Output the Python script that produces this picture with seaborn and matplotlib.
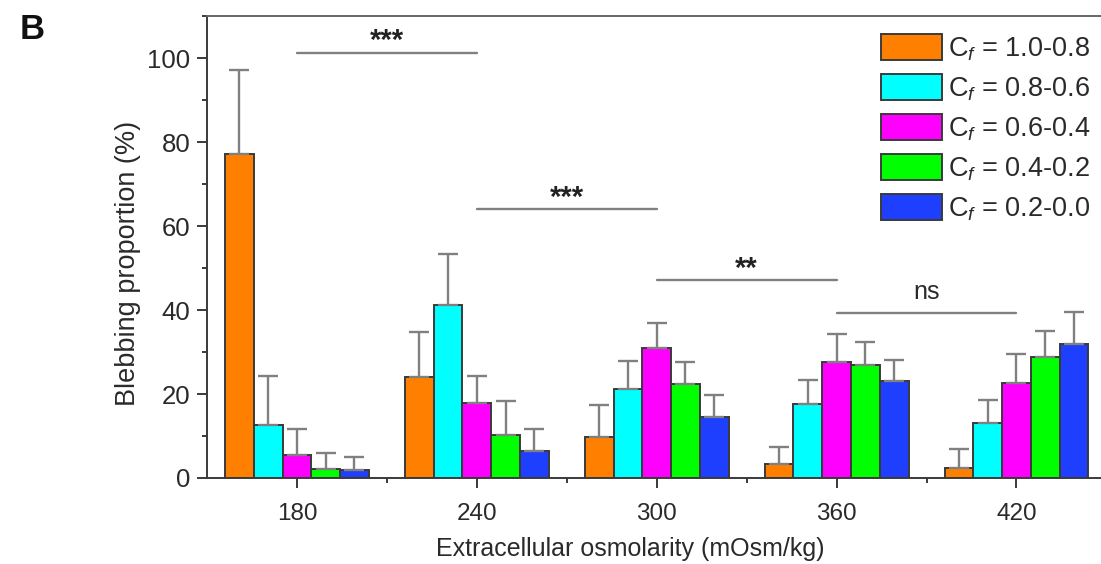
import numpy as np
import pandas as pd
import matplotlib
matplotlib.use('Agg')
import matplotlib.pyplot as plt
from matplotlib.ticker import MultipleLocator, FixedLocator
import seaborn as sns

# Data
osmolarity = ['180', '240', '300', '360', '420']
groups = [r'C$_f$ = 1.0-0.8', r'C$_f$ = 0.8-0.6', r'C$_f$ = 0.6-0.4',
          r'C$_f$ = 0.4-0.2', r'C$_f$ = 0.2-0.0']
colors = ['#FF8000', '#00FFFF', '#FF00FF', '#00FF00', '#1F3FFF']

means_c10 = [77.1, 24.0, 9.7, 3.4, 2.4]
means_c08 = [12.6, 41.3, 21.2, 17.7, 13.1]
means_c06 = [5.5, 17.9, 31.0, 27.7, 22.7]
means_c04 = [2.1, 10.2, 22.3, 26.8, 28.7]
means_c02 = [1.9, 6.4, 14.6, 23.2, 31.8]

err_c10 = [20.0, 10.8, 7.7, 3.9, 4.6]
err_c08 = [11.7, 12.0, 6.6, 5.7, 5.5]
err_c06 = [6.1, 6.5, 6.0, 6.5, 6.9]
err_c04 = [3.9, 8.2, 5.4, 5.7, 6.4]
err_c02 = [3.2, 5.3, 5.2, 5.0, 7.8]

# significance brackets: (left group, right group), height, label
sig_pairs = [(0, 1), (1, 2), (2, 3), (3, 4)]
sig_heights = [101.3, 64.0, 47.1, 39.3]
sig_labels = ['***', '***', '**', 'ns']

all_means = [means_c10, means_c08, means_c06, means_c04, means_c02]
all_errs = [err_c10, err_c08, err_c06, err_c04, err_c02]

rows = []
for g, m in zip(groups, all_means):
    for o, v in zip(osmolarity, m):
        rows.append({'osm': o, 'group': g, 'value': v})
df = pd.DataFrame(rows)

sns.set_style('ticks')
plt.rcParams['font.family'] = ['Liberation Sans', 'DejaVu Sans']
plt.rcParams['mathtext.fontset'] = 'custom'
plt.rcParams['mathtext.rm'] = 'Liberation Sans'
plt.rcParams['mathtext.it'] = 'Liberation Sans:italic'

text_col = '#2a2a2a'
axis_col = '#3a3a3a'

fig = plt.figure(figsize=(11.01, 5.64), dpi=100)
ax = fig.add_axes([0.188, 0.1525, 0.812, 0.819])

sns.barplot(data=df, x='osm', y='value', hue='group', order=osmolarity,
            hue_order=groups, palette=colors, width=0.8, errorbar=None,
            edgecolor='#3a3a3a', linewidth=1.4, saturation=1, ax=ax)

# upward-only error bars
for cont, errs in zip(ax.containers, all_errs):
    xs = [b.get_x() + b.get_width() / 2 for b in cont]
    ys = [b.get_height() for b in cont]
    ax.errorbar(xs, ys, yerr=[np.zeros(len(errs)), errs], fmt='none',
                ecolor='#808080', elinewidth=1.7, capsize=7, capthick=1.7,
                zorder=1)

# significance lines
for (a, b), h, lab in zip(sig_pairs, sig_heights, sig_labels):
    ax.plot([a, b], [h, h], color='#808080', lw=1.7)
    if lab == 'ns':
        ax.text((a + b) / 2, h + 2.2, lab, ha='center', va='bottom',
                fontsize=18, color=text_col)
    else:
        ax.text((a + b) / 2, h - 0.6, lab, ha='center', va='bottom',
                fontsize=21, fontweight='bold', color='#222222')

ax.set_xlim(-0.5, 4.47)
ax.set_ylim(0, 110)
ax.yaxis.set_major_locator(FixedLocator([0, 20, 40, 60, 80, 100]))
ax.yaxis.set_minor_locator(MultipleLocator(10))
ax.xaxis.set_minor_locator(FixedLocator([0.5, 1.5, 2.5, 3.5]))
ax.tick_params(axis='both', which='major', length=7, width=1.4,
               color=axis_col, labelcolor=text_col, pad=5)
ax.tick_params(axis='x', which='major', labelsize=17.5, pad=11)
ax.tick_params(axis='y', which='major', labelsize=18.5)
ax.tick_params(axis='both', which='minor', length=3.6, width=1.4,
               color=axis_col)
for s in ['left', 'bottom', 'top']:
    ax.spines[s].set_color(axis_col)
    ax.spines[s].set_linewidth(1.4)
ax.spines['top'].set_color('#666666')
ax.spines['right'].set_visible(False)

ax.set_xlabel('Extracellular osmolarity (mOsm/kg)', fontsize=18,
              color=text_col)
ax.set_ylabel('Blebbing proportion (%)', fontsize=19.5, color=text_col)
ax.xaxis.set_label_coords(0.474, -0.127)
ax.yaxis.set_label_coords(-0.074, 0.465)

leg = ax.legend(loc='upper right', bbox_to_anchor=(1.0, 0.985),
                frameon=False, fontsize=19.5, handlelength=2.25,
                handleheight=1.1, labelspacing=0.42, handletextpad=0.2,
                borderaxespad=0)
for t in leg.get_texts():
    t.set_color(text_col)

fig.text(0.018, 0.93, 'B', fontsize=25, fontweight='bold', color='#111111')

fig.savefig('out.png', dpi=100)
